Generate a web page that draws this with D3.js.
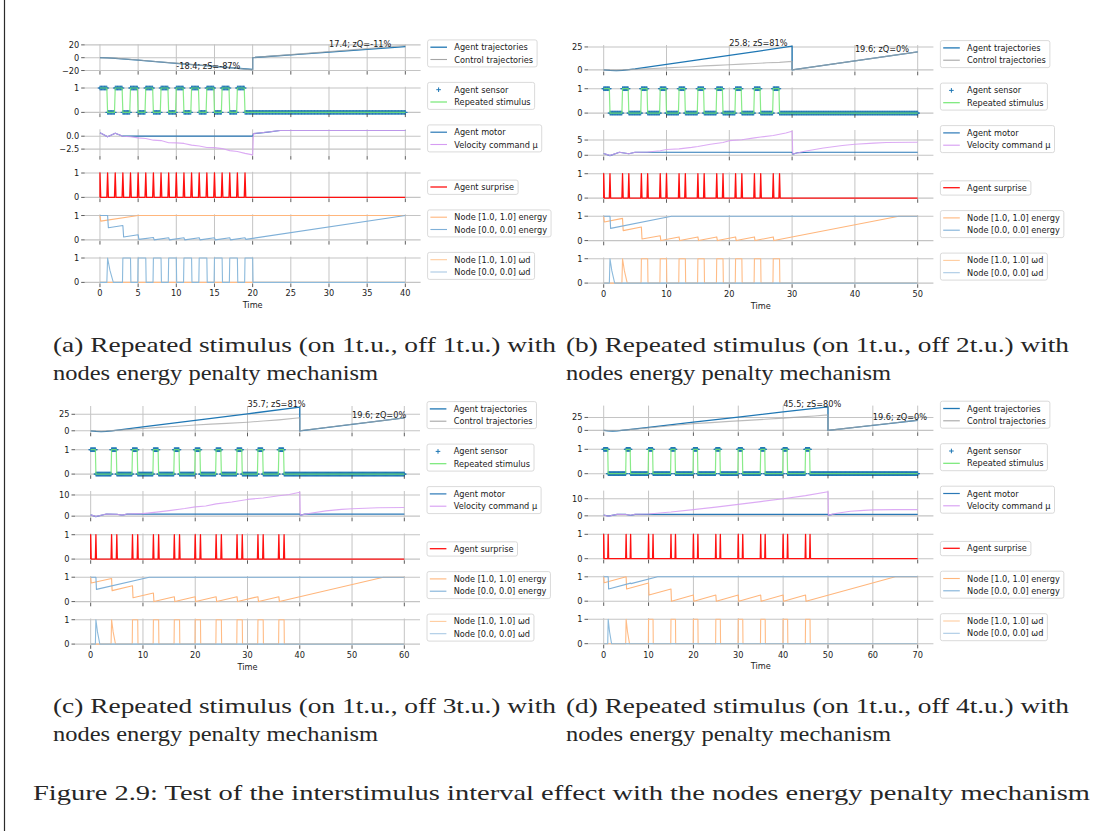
<!DOCTYPE html>
<html><head><meta charset="utf-8">
<script src="https://cdn.jsdelivr.net/npm/d3@7"></script>
<style>body{margin:0;background:#fff} svg{display:block}</style>
</head><body>
<svg id="c" width="1114" height="831"></svg>
<script>
// ===================== DATA =====================
// ---- Panel (a): on 1, off 1
const horizonA = 40;
const xTicksA = [0,5,10,15,20,25,30,35,40];
const yTicksA = [[-20,0,20],[0,1],[-2.5,0],[0,1],[0,1],[0,1]];
const yTickLabelsA = [["−20","0","20"],["0","1"],["−2.5","0.0"],["0","1"],["0","1"],["0","1"]];
const trajAgentA = [[0,0],[1,-0.2],[2,-0.9],[5,-3.8],[10,-8.8],[15,-13.6],[20,-18.4],[20,0.2],[25,4.4],[30,8.8],[35,13.1],[40,17.4]];
const trajControlA = [[0,0],[2,-0.6],[5,-3.5],[8,-6.6],[10,-8.4],[13,-11.6],[15,-13.4],[18,-16.6],[20,-19],[20,0.3],[25,4.8],[30,9.5],[35,14.2],[40,19]];
const stimOnsetsA = [0,2,4,6,8,10,12,14,16,18];
const motorA = [[0,0.65],[1,-0.12],[2,0.58],[3,0],[20,0],[20.1,0.5],[22,0.8],[23.6,1.1],[40,1.1]];
const muA = [[0,0.65],[1,-0.12],[2,0.58],[3,0],[4,-0.1],[5,-0.32],[6,-0.45],[7,-0.77],[8,-0.85],[9,-1.28],[10,-1.3],[11,-1.4],[12,-1.73],[13,-1.9],[14,-2.18],[15,-2.22],[16,-2.4],[17,-2.8],[18,-2.95],[19,-3.33],[20,-3.62],[20.1,0.5],[22,0.8],[23.6,1.1],[40,1.1]];
const surpriseA = [0,1,2,3,4,5,6,7,8,9,10,11,12,13,14,15,16,17,18,19];
const energyOrangeA = [[0,1],[0.1,0.77],[5,1],[40,1]];
const energyBlueA = [[0,1],[1,1],[1.1,0.5],[3,0.59],[3.1,0.12],[5,0.21],[5.1,0.02],[7,0.1],[7.1,0],[9,0.09],[9.1,0],[11,0.09],[11.1,0],[13,0.09],[13.1,0],[15,0.09],[15.1,0],[17,0.09],[17.1,0],[19,0.09],[19.1,0.02],[40,1]];
const omegaBlueTriA = 1;
const omegaBluePulsesA = [3,5,7,9,11,13,15,17,19];
const omegaOrangeTriA = null;
const omegaOrangePulsesA = [];
const notesA = [[10,-18.4,"-18.4; zS=-87%"],[30,17.4,"17.4; zQ=-11%"]];
const captionA = ["(a) Repeated stimulus (on 1t.u., off 1t.u.) with","nodes energy penalty mechanism"];

// ---- Panel (b): on 1, off 2
const horizonB = 50;
const xTicksB = [0,10,20,30,40,50];
const yTicksB = [[0,25],[0,1],[0,5],[0,1],[0,1],[0,1]];
const yTickLabelsB = [["0","25"],["0","1"],["0","5"],["0","1"],["0","1"],["0","1"]];
const trajAgentB = [[0,0],[1,-0.5],[2,-0.8],[3,-0.5],[5,1],[10,5.9],[15,10.8],[20,15.8],[25,20.8],[30,25.8],[30,0],[35,4.9],[40,9.8],[45,14.7],[50,19.6]];
const trajControlB = [[0,0],[2,-0.3],[4,0.2],[6,0.9],[8,1.5],[10,2.2],[12,2.8],[14,3.4],[16,4.3],[18,4.9],[20,5.6],[22,6.2],[24,6.9],[26,7.7],[28,8.2],[30,9.2],[30,0],[35,4.9],[40,9.8],[45,14.7],[50,19.6]];
const stimOnsetsB = [0,3,6,9,12,15,18,21,24,27];
const motorB = [[0,0.6],[1,-0.1],[2.5,1],[4,0.5],[5,1],[30,1],[30.1,0.4],[31,0.9],[33,1],[50,1]];
const muB = [[0,0.6],[1,-0.1],[2.5,1],[4,0.5],[5,1],[7,1.1],[9,1.5],[10,1.9],[12,2.1],[14,2.6],[15,2.9],[17,3.6],[19,4.2],[20,4.8],[22,5.1],[24,5.7],[25,6.0],[27,6.5],[29,7.3],[30,7.9],[30.1,0.4],[32,1.3],[35,2.4],[38,3.2],[40,3.6],[43,4.0],[45,4.2],[50,4.3]];
const surpriseB = [0,1,3,4,6,7,9,10,12,13,15,16,18,19,21,22,24,25,27,28];
const energyOrangeB = [[0,1],[0.1,0.76],[3,0.91],[3.1,0.41],[6,0.56],[6.1,0.065],[9,0.2],[9.1,0],[12,0.15],[12.1,0],[15,0.15],[15.1,0],[18,0.15],[18.1,0],[21,0.15],[21.1,0],[24,0.15],[24.1,0],[27,0.15],[27.1,0],[47,1],[50,1]];
const energyBlueB = [[0,1],[1,1],[1.1,0.5],[10.8,1],[50,1]];
const omegaBlueTriB = 1;
const omegaBluePulsesB = [];
const omegaOrangeTriB = 3;
const omegaOrangePulsesB = [6,9,12,15,18,21,24,27];
const notesB = [[20,25.8,"25.8; zS=81%"],[40,19.6,"19.6; zQ=0%"]];
const captionB = ["(b) Repeated stimulus (on 1t.u., off 2t.u.) with","nodes energy penalty mechanism"];

// ---- Panel (c): on 1, off 3
const horizonC = 60;
const xTicksC = [0,10,20,30,40,50,60];
const yTicksC = [[0,25],[0,1],[0,10],[0,1],[0,1],[0,1]];
const yTickLabelsC = [["0","25"],["0","1"],["0","10"],["0","1"],["0","1"],["0","1"]];
const trajAgentC = [[0,0],[1,-0.8],[2,-1.2],[3,-0.8],[4,0],[10,5.8],[20,15.7],[30,25.7],[40,35.7],[40,0],[45,4.9],[50,9.8],[55,14.7],[60,19.6]];
const trajControlC = [[0,0],[2,-0.6],[4,0.2],[7,1.8],[10,3.4],[13,5.2],[16,6.6],[20,8.7],[23,10.1],[26,11.3],[30,13],[33,14.8],[36,16.6],[40,19.7],[40,0],[45,4.9],[50,9.8],[55,14.7],[60,19.6]];
const stimOnsetsC = [0,4,8,12,16,20,24,28,32,36];
const motorC = [[0,0.6],[1,-0.2],[3,1],[5,0.9],[6,0.5],[7,1],[40,1],[40.1,0.5],[41,1],[60,1]];
const muC = [[0,0.6],[1,-0.2],[3,1],[5,0.9],[6,0.5],[7,1],[10,1.2],[13,2],[15,2.6],[18,3.6],[20,4.4],[22,4.8],[24,5.8],[27,6.7],[30,7.9],[33,8.6],[36,9.6],[38,10.2],[40,11.3],[40.1,0.5],[42,1.4],[45,2.5],[48,3.2],[50,3.5],[55,4],[60,4.1]];
const surpriseC = [0,1,4,5,8,9,12,13,16,17,20,21,24,25,28,29,32,33,36,37];
const energyOrangeC = [[0,1],[0.1,0.76],[4,0.95],[4.1,0.45],[8,0.65],[8.1,0.16],[12,0.35],[12.1,0],[16,0.2],[16.1,0],[20,0.2],[20.1,0],[24,0.2],[24.1,0],[28,0.2],[28.1,0],[32,0.2],[32.1,0],[36,0.2],[36.1,0],[56,1],[60,1]];
const energyBlueC = [[0,1],[1,1],[1.1,0.5],[11.2,1],[60,1]];
const omegaBlueTriC = 1;
const omegaBluePulsesC = [];
const omegaOrangeTriC = 4;
const omegaOrangePulsesC = [8,12,16,20,24,28,32,36];
const notesC = [[30,35.7,"35.7; zS=81%"],[50,19.6,"19.6; zQ=0%"]];
const captionC = ["(c) Repeated stimulus (on 1t.u., off 3t.u.) with","nodes energy penalty mechanism"];

// ---- Panel (d): on 1, off 4
const horizonD = 70;
const xTicksD = [0,10,20,30,40,50,60,70];
const yTicksD = [[0,25],[0,1],[0,10],[0,1],[0,1],[0,1]];
const yTickLabelsD = [["0","25"],["0","1"],["0","10"],["0","1"],["0","1"],["0","1"]];
const trajAgentD = [[0,0],[1,-1],[2,-1.5],[3,-1],[4,0],[10,5.9],[20,15.8],[30,25.7],[40,35.6],[50,45.5],[50,0],[55,4.9],[60,9.8],[65,14.7],[70,19.6]];
const trajControlD = [[0,0],[2,-0.8],[4,0.2],[8,3.2],[12,6.6],[16,9.8],[20,13],[24,15],[28,17.5],[32,19.3],[36,21.4],[40,23.7],[44,26.1],[47,27.9],[50,30],[50,0],[55,4.9],[60,9.8],[65,14.7],[70,19.6]];
const stimOnsetsD = [0,5,10,15,20,25,30,35,40,45];
const motorD = [[0,0.5],[1,-0.2],[3,0.9],[5,0.8],[6,0.3],[7,0.9],[50,0.9],[50.1,0.4],[51,0.9],[70,0.9]];
const muD = [[0,0.5],[1,-0.2],[3,0.9],[5,0.8],[6,0.3],[7,0.9],[10,1.1],[15,2.2],[20,3.6],[25,5.1],[30,6.7],[35,8.3],[40,10],[45,11.8],[50,14],[50.1,0.4],[52,1.5],[55,2.7],[58,3.2],[60,3.5],[65,3.6],[70,3.6]];
const surpriseD = [0,1,5,6,10,11,15,16,20,21,25,26,30,31,35,36,40,41,45,46];
const energyOrangeD = [[0,1],[0.1,0.76],[5,1],[5.1,0.5],[10,0.75],[10.1,0.25],[15,0.5],[15.1,0],[20,0.25],[20.1,0],[25,0.25],[25.1,0],[30,0.25],[30.1,0],[35,0.25],[35.1,0],[40,0.25],[40.1,0],[45,0.25],[45.1,0],[65,1],[70,1]];
const energyBlueD = [[0,1],[1,1],[1.1,0.5],[6,0.74],[6.1,0.72],[12,1],[70,1]];
const omegaBlueTriD = 1;
const omegaBluePulsesD = [];
const omegaOrangeTriD = 5;
const omegaOrangePulsesD = [10,15,20,25,30,35,40,45];
const notesD = [[40,45.5,"45.5; zS=80%"],[60,19.6,"19.6; zQ=0%"]];
const captionD = ["(d) Repeated stimulus (on 1t.u., off 4t.u.) with","nodes energy penalty mechanism"];

const legendLabels = [
  ["Agent trajectories","Control trajectories"],
  ["Agent sensor","Repeated stimulus"],
  ["Agent motor","Velocity command μ"],
  ["Agent surprise"],
  ["Node [1.0, 1.0] energy","Node [0.0, 0.0] energy"],
  ["Node [1.0, 1.0] ωd","Node [0.0, 0.0] ωd"]
];
const figureCaption = "Figure 2.9: Test of the interstimulus interval effect with the nodes energy penalty mechanism";

// ===================== LAYOUT / STYLE =====================
const FONT = "DejaVu Sans";
const FS = 8.2;
const PITCH = 42.5, AXH = 26.8;
const C = {
  agent:"#1f77b4", control:"#a6a6a6", sensor:"#1f77b4", stim:"#74e874",
  motor:"#2a78b6", mu:"#d69cf2", surprise:"#ff1010",
  enO:"#ffb67c", enB:"#7fb0d8", wO:"#ffbc86", wB:"#8cbadc",
  grid:"#c4c4c4", tick:"#333", text:"#1a1a1a"
};

const svg = d3.select("#c");
svg.append("rect").attr("width",1114).attr("height",831).attr("fill","#fff");
svg.append("line").attr("x1",4.5).attr("x2",4.5).attr("y1",0).attr("y2",831).attr("stroke","#2b2b2b").attr("stroke-width",1.2);

function buildSensor(onsets, T){
  const pts=[];
  for(let k=0;k<=T*10;k++){
    const on = onsets.some(o => k>=o*10 && k<o*10+10) ? 1 : 0;
    pts.push([k/10,on]);
  }
  return pts;
}
function buildSpikes(times, T){
  const pts=[[0,0]];
  times.forEach(s=>{ pts.push([Math.max(0,s-0.1),0],[s,1],[s+0.1,0]); });
  pts.push([T,0]);
  return pts;
}
function buildOmega(tri, pulses, T){
  const pts=[[0,0]];
  if(tri!=null) pts.push([tri-0.1,0],[tri,1],[tri+0.3,0.5],[tri+0.75,0]);
  pulses.forEach(p=>pts.push([p-0.05,0],[p,1],[p+1,1],[p+1.05,0]));
  pts.push([T,0]);
  return pts;
}

const panels = [
  {T:horizonA, xt:xTicksA, yt:yTicksA, ytl:yTickLabelsA, agent:trajAgentA, control:trajControlA, onsets:stimOnsetsA, motor:motorA, mu:muA, spikes:surpriseA, enO:energyOrangeA, enB:energyBlueA, wBT:omegaBlueTriA, wBP:omegaBluePulsesA, wOT:omegaOrangeTriA, wOP:omegaOrangePulsesA, notes:notesA, cap:captionA,
   box:{x0:84.7,x1:420.6,top:44.3}, capPos:{x:53,y:351.5}},
  {T:horizonB, xt:xTicksB, yt:yTicksB, ytl:yTickLabelsB, agent:trajAgentB, control:trajControlB, onsets:stimOnsetsB, motor:motorB, mu:muB, spikes:surpriseB, enO:energyOrangeB, enB:energyBlueB, wBT:omegaBlueTriB, wBP:omegaBluePulsesB, wOT:omegaOrangeTriB, wOP:omegaOrangePulsesB, notes:notesB, cap:captionB,
   box:{x0:588,x1:933.4,top:45}, capPos:{x:566,y:351.5}},
  {T:horizonC, xt:xTicksC, yt:yTicksC, ytl:yTickLabelsC, agent:trajAgentC, control:trajControlC, onsets:stimOnsetsC, motor:motorC, mu:muC, spikes:surpriseC, enO:energyOrangeC, enB:energyBlueC, wBT:omegaBlueTriC, wBP:omegaBluePulsesC, wOT:omegaOrangeTriC, wOP:omegaOrangePulsesC, notes:notesC, cap:captionC,
   box:{x0:75,x1:420,top:406}, capPos:{x:53,y:712.5}},
  {T:horizonD, xt:xTicksD, yt:yTicksD, ytl:yTickLabelsD, agent:trajAgentD, control:trajControlD, onsets:stimOnsetsD, motor:motorD, mu:muD, spikes:surpriseD, enO:energyOrangeD, enB:energyBlueD, wBT:omegaBlueTriD, wBP:omegaBluePulsesD, wOT:omegaOrangeTriD, wOP:omegaOrangePulsesD, notes:notesD, cap:captionD,
   box:{x0:588,x1:933.4,top:405.6}, capPos:{x:566,y:712.5}}
];

function padDomain(arrs){
  const vals = arrs.flat().map(d=>d[1]);
  const lo=d3.min(vals), hi=d3.max(vals), m=(hi-lo)*0.05;
  return [lo-m, hi+m];
}

function txt(g,x,y,s,anchor){
  return g.append("text").attr("x",x).attr("y",y).attr("font-family",FONT).attr("font-size",FS)
    .attr("fill",C.text).attr("text-anchor",anchor||"start").text(s);
}

panels.forEach(P=>{
  const g = svg.append("g");
  const x = d3.scaleLinear().domain([-0.05*P.T, 1.05*P.T]).range([P.box.x0, P.box.x1]);
  const sensor = buildSensor(P.onsets, P.T);
  const spikes = buildSpikes(P.spikes, P.T);
  const wO = buildOmega(P.wOT, P.wOP, P.T);
  const wB = buildOmega(P.wBT, P.wBP, P.T);
  const subs = [
    {series:[{d:P.agent,c:C.agent,w:1.3},{d:P.control,c:C.control,w:1.1,o:0.75}]},
    {series:[{d:sensor,marker:true},{d:sensor,c:C.stim,w:1.2,o:0.85}]},
    {series:[{d:P.motor,c:C.motor,w:1.2},{d:P.mu,c:C.mu,w:1.1,o:0.85}]},
    {series:[{d:spikes,c:C.surprise,w:1.3}]},
    {series:[{d:P.enO,c:C.enO,w:1.1},{d:P.enB,c:C.enB,w:1.1}]},
    {series:[{d:wO,c:C.wO,w:1.1},{d:wB,c:C.wB,w:1.1}]}
  ];
  const legendStyles = [
    [{c:C.agent,w:1.3},{c:C.control,w:1.1}],
    [{marker:true},{c:C.stim,w:1.2}],
    [{c:C.motor,w:1.2},{c:C.mu,w:1.1}],
    [{c:C.surprise,w:1.3}],
    [{c:C.enO,w:1.1},{c:C.enB,w:1.1}],
    [{c:"#ffcc9e",w:1.1},{c:"#a9c9e4",w:1.1}]
  ];
  subs.forEach((S,i)=>{
    const top = P.box.top + i*PITCH, bot = top + AXH;
    const y = d3.scaleLinear().domain(padDomain(S.series.map(s=>s.d))).range([bot, top]);
    g.append("g").selectAll("line").data(P.xt).join("line")
      .attr("x1",d=>x(d)).attr("x2",d=>x(d)).attr("y1",top).attr("y2",bot)
      .attr("stroke",C.grid).attr("stroke-width",1);
    g.append("g").selectAll("line").data(P.yt[i]).join("line")
      .attr("x1",P.box.x0).attr("x2",P.box.x1).attr("y1",d=>y(d)).attr("y2",d=>y(d))
      .attr("stroke",C.grid).attr("stroke-width",1.1);
    const line = d3.line().x(d=>x(d[0])).y(d=>y(d[1]));
    S.series.forEach(s=>{
      if(s.marker){
        const p = d3.path();
        s.d.forEach(d=>{ const px=x(d[0]), py=y(d[1]);
          p.moveTo(px-2.3,py); p.lineTo(px+2.3,py); p.moveTo(px,py-2.3); p.lineTo(px,py+2.3); });
        g.append("path").attr("d",p.toString()).attr("stroke",C.sensor).attr("stroke-width",1).attr("fill","none");
      } else {
        g.append("path").datum(s.d).attr("d",line).attr("fill","none")
          .attr("stroke",s.c).attr("stroke-width",s.w).attr("stroke-opacity",s.o||1)
          .attr("stroke-linejoin","round");
      }
    });
    g.append("g").selectAll("line").data(P.xt).join("line")
      .attr("x1",d=>x(d)).attr("x2",d=>x(d)).attr("y1",bot).attr("y2",bot+3.5)
      .attr("stroke",C.tick).attr("stroke-width",0.8);
    P.yt[i].forEach((v,k)=>{
      g.append("line").attr("x1",P.box.x0-3.5).attr("x2",P.box.x0).attr("y1",y(v)).attr("y2",y(v))
        .attr("stroke",C.tick).attr("stroke-width",0.8);
      txt(g,P.box.x0-5.5,y(v)+3,P.ytl[i][k],"end");
    });
    if(i===5){
      P.xt.forEach(v=>txt(g,x(v),bot+12.6,String(v),"middle"));
      txt(g,(P.box.x0+P.box.x1)/2,bot+24.5,"Time","middle");
    }
    if(i===0){
      P.notes.forEach(n=>txt(g,x(n[0]),y(n[1]),n[2],"start"));
    }
    const labels = legendLabels[i];
    const lx = P.box.x1 + 7;
    const bBot = top + 22.6;
    const n = labels.length;
    const bTop = bBot - (n===2 ? 27 : 14.3);
    const lg = g.append("g");
    const rect = lg.append("rect").attr("x",lx).attr("y",bTop).attr("height",bBot-bTop)
      .attr("rx",2).attr("fill","#fff").attr("fill-opacity",0.85).attr("stroke","#d0d0d0").attr("stroke-width",0.8);
    let maxW = 0;
    labels.forEach((lab,k)=>{
      const cy = bBot - 7.4 - (n-1-k)*12.3;
      const st = legendStyles[i][k];
      if(st.marker){
        lg.append("path").attr("d",`M${lx+11-2.3},${cy}h4.6M${lx+11},${cy-2.3}v4.6`).attr("stroke",C.sensor).attr("stroke-width",1);
      } else {
        lg.append("line").attr("x1",lx+2.8).attr("x2",lx+19.4).attr("y1",cy).attr("y2",cy)
          .attr("stroke",st.c).attr("stroke-width",st.w);
      }
      const t = txt(lg,lx+26.7,cy+3,lab,"start");
      maxW = Math.max(maxW, t.node().getComputedTextLength());
    });
    rect.attr("width",26.7+maxW+4);
  });
  P.cap.forEach((line,k)=>{
    svg.append("text").attr("x",P.capPos.x).attr("y",P.capPos.y + k*28.5)
      .attr("font-family","Liberation Serif").attr("font-size",21).attr("fill","#262626")
      .attr("textLength", k===0 ? 503 : 325).attr("lengthAdjust","spacingAndGlyphs").text(line);
  });
});

svg.append("text").attr("x",33).attr("y",800).attr("font-family","Liberation Serif").attr("font-size",21)
  .attr("fill","#262626").attr("textLength",1057).attr("lengthAdjust","spacingAndGlyphs").text(figureCaption);
</script>
</body></html>
